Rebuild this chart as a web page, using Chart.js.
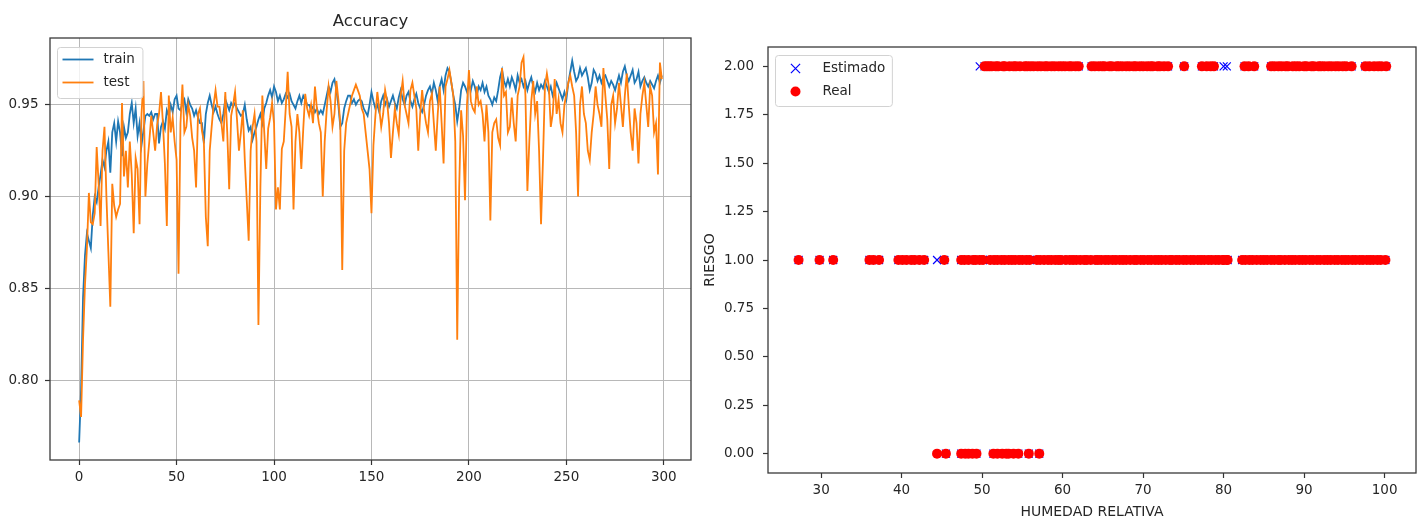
<!DOCTYPE html>
<html><head><meta charset="utf-8">
<script src="https://cdn.jsdelivr.net/npm/chart.js@4.4.1/dist/chart.umd.min.js"></script>
<style>
html,body{margin:0;padding:0;background:#fff;width:1424px;height:523px;overflow:hidden}
#c1{position:absolute;left:0;top:0}
#c2{position:absolute;left:700px;top:0}
</style></head><body>
<canvas id="c1" width="700" height="523"></canvas>
<canvas id="c2" width="724" height="523"></canvas>
<script>
// ---------- Left chart: Accuracy per epoch ----------
const trainAcc = [0.766,0.795,0.845,0.868,0.880,0.876,0.872,0.890,0.900,0.897,
0.905,0.912,0.920,0.916,0.925,0.930,0.913,0.935,0.940,0.930,
0.941,0.935,0.922,0.938,0.932,0.935,0.945,0.951,0.940,0.948,
0.933,0.940,0.928,0.936,0.944,0.945,0.944,0.946,0.942,0.945,
0.945,0.929,0.938,0.941,0.937,0.947,0.944,0.950,0.946,0.953,
0.955,0.948,0.947,0.951,0.953,0.946,0.953,0.950,0.948,0.944,
0.947,0.943,0.940,0.940,0.929,0.945,0.951,0.955,0.950,0.946,
0.949,0.945,0.942,0.940,0.945,0.953,0.950,0.947,0.951,0.949,
0.951,0.948,0.946,0.944,0.945,0.950,0.942,0.936,0.938,0.931,
0.935,0.938,0.942,0.945,0.940,0.948,0.951,0.955,0.958,0.954,
0.960,0.957,0.952,0.955,0.951,0.953,0.956,0.954,0.956,0.952,
0.950,0.948,0.952,0.955,0.951,0.955,0.953,0.950,0.950,0.947,
0.949,0.946,0.948,0.945,0.947,0.945,0.950,0.955,0.960,0.957,
0.962,0.964,0.958,0.950,0.938,0.940,0.948,0.952,0.955,0.955,
0.951,0.953,0.950,0.952,0.953,0.952,0.948,0.946,0.944,0.950,
0.957,0.952,0.948,0.950,0.946,0.952,0.955,0.950,0.953,0.949,
0.952,0.955,0.951,0.948,0.954,0.958,0.953,0.950,0.955,0.957,
0.952,0.949,0.953,0.956,0.951,0.948,0.946,0.950,0.955,0.958,
0.960,0.956,0.962,0.958,0.952,0.960,0.964,0.958,0.966,0.970,
0.968,0.962,0.955,0.950,0.941,0.948,0.958,0.962,0.960,0.957,
0.961,0.958,0.963,0.960,0.955,0.960,0.958,0.962,0.957,0.960,
0.955,0.953,0.950,0.954,0.952,0.958,0.965,0.969,0.963,0.960,
0.964,0.960,0.965,0.962,0.958,0.966,0.962,0.964,0.960,0.963,
0.958,0.962,0.965,0.960,0.957,0.962,0.958,0.961,0.959,0.963,
0.960,0.957,0.960,0.955,0.958,0.962,0.959,0.956,0.953,0.957,
0.953,0.962,0.968,0.974,0.968,0.963,0.965,0.970,0.966,0.968,
0.970,0.965,0.958,0.962,0.969,0.967,0.963,0.966,0.962,0.965,
0.966,0.963,0.960,0.963,0.961,0.958,0.962,0.966,0.962,0.968,
0.971,0.966,0.963,0.966,0.969,0.962,0.964,0.968,0.960,0.963,
0.965,0.962,0.960,0.963,0.961,0.959,0.963,0.966,0.962,0.966];

const testAcc = [0.789,0.780,0.822,0.852,0.872,0.902,0.886,0.885,0.891,0.927,
0.907,0.884,0.925,0.938,0.900,0.870,0.840,0.907,0.895,0.889,
0.893,0.896,0.951,0.911,0.925,0.905,0.930,0.912,0.880,0.921,
0.915,0.885,0.945,0.963,0.900,0.918,0.930,0.944,0.935,0.925,
0.939,0.945,0.957,0.940,0.918,0.884,0.955,0.935,0.943,0.930,
0.920,0.858,0.940,0.961,0.935,0.938,0.950,0.944,0.932,0.925,
0.905,0.945,0.948,0.936,0.930,0.889,0.873,0.925,0.938,0.950,
0.958,0.949,0.949,0.940,0.930,0.957,0.935,0.904,0.944,0.950,
0.957,0.942,0.925,0.935,0.947,0.920,0.898,0.876,0.925,0.938,
0.945,0.930,0.830,0.905,0.955,0.935,0.915,0.937,0.943,0.951,
0.940,0.893,0.905,0.893,0.926,0.930,0.948,0.968,0.945,0.938,
0.893,0.930,0.945,0.935,0.915,0.937,0.956,0.948,0.944,0.950,
0.940,0.960,0.948,0.940,0.935,0.900,0.930,0.947,0.960,0.952,
0.938,0.945,0.963,0.953,0.940,0.860,0.925,0.940,0.945,0.950,
0.955,0.958,0.961,0.958,0.955,0.948,0.945,0.935,0.925,0.915,
0.891,0.928,0.944,0.957,0.948,0.938,0.945,0.958,0.952,0.940,
0.921,0.935,0.948,0.940,0.934,0.955,0.963,0.950,0.945,0.940,
0.958,0.962,0.955,0.948,0.925,0.945,0.958,0.947,0.940,0.935,
0.952,0.956,0.940,0.925,0.945,0.960,0.940,0.918,0.960,0.964,
0.969,0.962,0.955,0.930,0.822,0.905,0.947,0.933,0.898,0.950,
0.969,0.952,0.948,0.946,0.960,0.950,0.952,0.945,0.930,0.950,
0.935,0.887,0.935,0.940,0.942,0.932,0.928,0.970,0.955,0.957,
0.935,0.938,0.954,0.940,0.930,0.955,0.960,0.973,0.976,0.955,
0.903,0.930,0.952,0.963,0.945,0.952,0.925,0.885,0.920,0.960,
0.967,0.960,0.938,0.945,0.964,0.945,0.953,0.940,0.935,0.950,
0.956,0.962,0.966,0.960,0.955,0.935,0.900,0.950,0.960,0.945,
0.940,0.925,0.920,0.935,0.945,0.960,0.950,0.945,0.938,0.970,
0.955,0.942,0.915,0.950,0.955,0.940,0.948,0.962,0.950,0.938,
0.955,0.967,0.950,0.935,0.925,0.948,0.940,0.918,0.945,0.955,
0.962,0.950,0.938,0.960,0.955,0.935,0.940,0.912,0.973,0.964];

const epochTicks = [0, 50, 100, 150, 200, 250, 300];
const accTicks = [0.80, 0.85, 0.90, 0.95];

// ---------- Right chart: RIESGO vs HUMEDAD RELATIVA ----------
const humedadRiesgo2 = [50.3,50.9,51.2,51.7,52.0,52.6,52.8,53.4,53.9,54.2,54.7,55.3,55.6,56.0,56.9,57.3,57.8,58.1,58.6,59.0,59.5,59.9,60.3,60.8,61.1,61.6,62.0,
63.6,64.0,64.5,64.9,65.2,65.8,66.1,66.7,67.0,67.4,67.9,68.3,68.8,69.1,69.6,70.0,70.5,70.9,71.2,71.8,72.1,72.6,73.1,
75.1,77.3,77.9,78.4,78.8,82.6,83.1,83.8,
85.9,86.3,86.8,87.2,87.7,88.0,88.6,89.0,89.4,90.0,90.3,90.9,91.2,91.8,92.1,92.5,93.0,93.4,93.9,94.3,94.8,95.2,95.9,
97.6,98.1,98.7,99.2,99.6,100.2];
const humedadRiesgo1 = [27.2,29.8,31.5,36.0,36.5,37.2,39.6,40.1,40.6,41.2,41.6,42.2,42.8,45.3,
47.4,47.8,48.3,48.9,49.2,50.1,51.0,51.5,51.9,52.4,52.8,53.3,53.7,54.1,54.6,55.0,55.5,55.9,56.8,57.2,57.7,58.2,58.6,59.1,59.5,59.8,
60.4,60.9,61.3,61.7,62.2,62.7,63.0,63.5,64.1,64.4,64.8,65.3,65.7,66.2,66.6,67.1,67.5,67.9,68.4,68.9,69.2,69.7,70.1,70.6,71.0,71.5,71.9,
72.3,72.8,73.3,73.6,74.1,74.5,75.0,75.4,75.9,76.3,76.8,77.2,77.6,78.1,78.5,79.0,79.4,79.9,80.5,
82.3,82.7,83.2,83.6,84.1,84.6,85.0,85.4,85.9,86.3,86.8,87.1,87.6,88.1,88.5,88.9,89.4,89.8,90.2,90.7,91.1,91.6,92.0,92.5,92.9,
93.3,93.8,94.2,94.7,95.1,95.5,96.0,96.4,96.9,97.3,97.8,98.2,98.6,99.1,99.5,100.1];
const humedadRiesgo0 = [45.5,47.4,47.9,48.3,48.8,49.3,51.4,51.9,52.5,53.0,53.3,53.9,54.5,55.8,57.1];
// samples whose estimate differs from the real value
const errorHumedad  = [44.4, 50.6, 56.4, 49.7, 80.0, 80.4];
const errorReal     = [0, 2, 2, 1, 1, 1];
const errorEstimado = [1, 1, 1, 2, 2, 2];
const riesgoTicks = [0, 0.25, 0.5, 0.75, 1, 1.25, 1.5, 1.75, 2];
const humedadTicks = [30, 40, 50, 60, 70, 80, 90, 100];

// ---------- helpers ----------
const FONT = "'DejaVu Sans', 'Liberation Sans', sans-serif";
const TXT = '#262626';
const levelPoints = (xs, y) => xs.map(x => ({x, y}));
const realPoints = [
  ...levelPoints(humedadRiesgo2, 2), ...levelPoints(humedadRiesgo1, 1), ...levelPoints(humedadRiesgo0, 0),
  ...errorHumedad.map((x, i) => ({x, y: errorReal[i]}))
];
const estPoints = [
  ...levelPoints(humedadRiesgo2, 2), ...levelPoints(humedadRiesgo1, 1), ...levelPoints(humedadRiesgo0, 0),
  ...errorHumedad.map((x, i) => ({x, y: errorEstimado[i]}))
];

const mplPlugin = {
  id: 'mpl',
  afterDatasetsDraw(chart, args, o) {
    const {ctx, chartArea: a} = chart;
    ctx.save();
    ctx.strokeStyle = '#3a3a3a'; ctx.lineWidth = 1.3;
    ctx.strokeRect(a.left, a.top, a.right - a.left, a.bottom - a.top);
    const L = o.legend;
    ctx.font = L.font;
    const ds = chart.data.datasets;
    const tw = Math.max(...ds.map(d => ctx.measureText(d.label).width));
    const x0 = Math.round(a.left + L.dx) + 0.5, y0 = Math.round(a.top + L.dy) + 0.5;
    const w = L.textX + tw + L.padR, h = L.height;
    ctx.beginPath();
    if (ctx.roundRect) ctx.roundRect(x0, y0, w, h, 3); else ctx.rect(x0, y0, w, h);
    ctx.fillStyle = 'rgba(255,255,255,0.8)'; ctx.fill();
    ctx.strokeStyle = '#d2d2d2'; ctx.lineWidth = 1; ctx.stroke();
    ds.forEach((d, k) => {
      const cy = y0 + L.firstRow + k * L.rowGap;
      const cx = x0 + L.markerX;
      if (L.kind === 'line') {
        ctx.beginPath(); ctx.strokeStyle = d.borderColor; ctx.lineWidth = d.borderWidth;
        ctx.moveTo(x0 + L.lineX0, cy); ctx.lineTo(x0 + L.lineX1, cy); ctx.stroke();
      } else if (d.pointStyle === 'circle') {
        ctx.beginPath(); ctx.fillStyle = d.backgroundColor;
        ctx.arc(cx, cy, d.pointRadius, 0, Math.PI * 2); ctx.fill();
      } else {
        const r = 6.5 * Math.SQRT1_2;
        ctx.beginPath(); ctx.strokeStyle = d.borderColor; ctx.lineWidth = d.borderWidth;
        ctx.moveTo(cx - r, cy - r); ctx.lineTo(cx + r, cy + r);
        ctx.moveTo(cx - r, cy + r); ctx.lineTo(cx + r, cy - r); ctx.stroke();
      }
      ctx.fillStyle = TXT; ctx.textBaseline = 'middle'; ctx.textAlign = 'left';
      ctx.fillText(d.label, x0 + L.textX, cy);
    });
    ctx.restore();
  }
};

// ---------- Accuracy chart ----------
new Chart(document.getElementById('c1'), {
  type: 'line',
  data: {
    datasets: [
      { label: 'train', data: trainAcc.map((v, i) => ({x: i, y: v})), borderColor: '#1f77b4', backgroundColor: '#1f77b4',
        borderWidth: 1.8, pointRadius: 0, tension: 0, order: 1 },
      { label: 'test', data: testAcc.map((v, i) => ({x: i, y: v})), borderColor: '#ff7f0e', backgroundColor: '#ff7f0e',
        borderWidth: 1.8, pointRadius: 0, tension: 0, order: 0 }
    ]
  },
  options: {
    responsive: false, animation: false, events: [],
    layout: { padding: { left: 0, right: 9, top: 0, bottom: 0 } },
    plugins: {
      legend: { display: false }, tooltip: { enabled: false },
      title: { display: true, fullSize: false, text: 'Accuracy', color: TXT, font: { family: FONT, size: 16.5, weight: 'normal', lineHeight: 1.2 },
        padding: { top: 12, bottom: 6.2 } },
      mpl: { legend: { kind: 'line', font: '13.5px ' + FONT, dx: 7, dy: 9, height: 51, firstRow: 12, rowGap: 23,
        lineX0: 5, lineX1: 36, markerX: 20, textX: 46, padR: 8 } }
    },
    scales: {
      x: { type: 'linear', min: -14.95, max: 313.95,
        afterFit: s => { s.height = 63; },
        afterBuildTicks: s => { s.ticks = epochTicks.map(v => ({value: v})); },
        ticks: { color: TXT, font: { family: FONT, size: 13.5 }, padding: 4, maxRotation: 0, autoSkip: false, callback: v => String(v) },
        grid: { color: '#b8b8b8', lineWidth: 1, tickColor: '#333', tickLength: 5, tickWidth: 1.2 },
        border: { display: false } },
      y: { type: 'linear', min: 0.7565, max: 0.9864,
        afterFit: s => { s.width = 50; },
        afterBuildTicks: s => { s.ticks = accTicks.map(v => ({value: v})); },
        ticks: { color: TXT, font: { family: FONT, size: 13.5 }, padding: 6.5, autoSkip: false, callback: v => v.toFixed(2) },
        grid: { color: '#b8b8b8', lineWidth: 1, tickColor: '#333', tickLength: 5, tickWidth: 1.2 },
        border: { display: false } }
    }
  },
  plugins: [mplPlugin]
});

// ---------- Scatter chart ----------
new Chart(document.getElementById('c2'), {
  type: 'scatter',
  data: {
    datasets: [
      { label: 'Estimado', data: estPoints, pointStyle: 'crossRot', pointRadius: 5.6, borderColor: '#0000ff',
        backgroundColor: '#0000ff', borderWidth: 1.2, order: 1 },
      { label: 'Real', data: realPoints, pointStyle: 'circle', pointRadius: 5, borderColor: '#ff0000',
        backgroundColor: '#ff0000', borderWidth: 0, order: 0 }
    ]
  },
  options: {
    responsive: false, animation: false, events: [],
    layout: { padding: { left: 0, right: 8, top: 47, bottom: 0 } },
    plugins: {
      legend: { display: false }, tooltip: { enabled: false },
      mpl: { legend: { kind: 'marker', font: '13.5px ' + FONT, dx: 7, dy: 8, height: 51, firstRow: 13, rowGap: 23,
        markerX: 20, textX: 47, padR: 7 } }
    },
    scales: {
      x: { type: 'linear', min: 23.4, max: 103.9,
        afterFit: s => { s.height = 50; },
        afterBuildTicks: s => { s.ticks = humedadTicks.map(v => ({value: v})); },
        title: { display: true, text: 'HUMEDAD RELATIVA', color: TXT, font: { family: FONT, size: 14 }, padding: { top: 0, bottom: 2 } },
        ticks: { color: TXT, font: { family: FONT, size: 13.5 }, padding: 4, maxRotation: 0, autoSkip: false, callback: v => String(v) },
        grid: { drawOnChartArea: false, tickColor: '#333', tickLength: 5, tickWidth: 1.2 },
        border: { display: false } },
      y: { type: 'linear', min: -0.1, max: 2.1,
        afterFit: s => { s.width = 68; },
        afterBuildTicks: s => { s.ticks = riesgoTicks.map(v => ({value: v})); },
        title: { display: true, text: 'RIESGO', color: TXT, font: { family: FONT, size: 14 }, padding: { top: 2, bottom: 0 } },
        ticks: { color: TXT, font: { family: FONT, size: 13.5 }, padding: 9, autoSkip: false, callback: v => v.toFixed(2) },
        grid: { drawOnChartArea: false, tickColor: '#333', tickLength: 5, tickWidth: 1.2 },
        border: { display: false } }
    }
  },
  plugins: [mplPlugin]
});
</script></body></html>
